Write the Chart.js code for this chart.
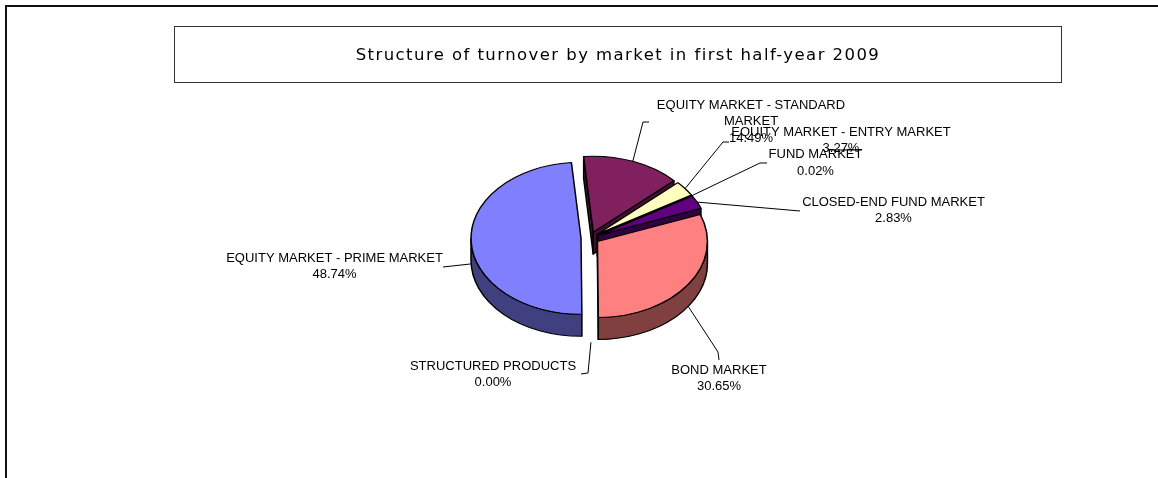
<!DOCTYPE html>
<html>
<head>
<meta charset="utf-8">
<script src="https://cdn.jsdelivr.net/npm/chart.js@4.4.0/dist/chart.umd.min.js"></script>
<style>
  html, body { margin: 0; padding: 0; background: #fff; }
  #wrap { position: relative; width: 1158px; height: 478px; overflow: hidden; }
  #frame {
    position: absolute; left: 5px; top: 5px; width: 1200px; height: 520px;
    border-left: 2px solid #111; border-top: 2px solid #111;
  }
  #titleBox {
    position: absolute; left: 174px; top: 26px; width: 888px; height: 57px;
    box-sizing: border-box; border: 1px solid #333;
    display: flex; align-items: center; justify-content: center;
    font: 16.5px "DejaVu Sans", Verdana, sans-serif; color: #000; white-space: nowrap;
  }
  #pie { position: absolute; left: 0; top: 0; }
</style>
</head>
<body>
<div id="wrap">
  <div id="frame"></div>
  <canvas id="pie" width="1158" height="478"></canvas>
  <div id="titleBox"><span id="title">Structure of turnover by market in first half-year 2009</span></div>
</div>
<script>
// slices, clockwise from 12 o'clock
var categories = [
  "EQUITY MARKET - STANDARD MARKET",
  "EQUITY MARKET - ENTRY MARKET",
  "FUND MARKET",
  "CLOSED-END FUND MARKET",
  "BOND MARKET",
  "STRUCTURED PRODUCTS",
  "EQUITY MARKET - PRIME MARKET",
];
var shares = [14.49, 3.27, 0.02, 2.83, 30.65, 0.0, 48.74];

var topColors = ["#80205F", "#FFFFC0", "#7A2A7A", "#600080", "#FF8080", "#0066CC", "#8080FF"];
var sideColors = ["#401030", "#808060", "#3D153D", "#300040", "#804040", "#003366", "#404080"];

var PIE_SQUASH = 76 / 110;   // ellipse height / width
var PIE_DEPTH = 22;          // thickness of the pie in px
var EXPLODE = 9;
var LINE_H = 16.5;
var LABEL_FONT = '13px "Liberation Sans", Arial, sans-serif';

// label placement: centre x, first line y, wrap width, leader bends
var labelLayout = [
  { x: 751, y: 105, wrap: 200, leader: [[643, 122], [649, 122]] },
  { x: 841, y: 132, wrap: 260, leader: [[723, 142], [729, 142]], extra: [[827, 150], [862, 150]] },
  { x: 815.5, y: 154.5, wrap: 200, leader: [[760, 163], [767, 163]] },
  { x: 893.5, y: 202, wrap: 260, leader: [[800, 211]] },
  { x: 719, y: 370, wrap: 200, leader: [[718, 352], [719, 360]] },
  { x: 493, y: 366, wrap: 220, leader: [[588, 373], [581, 374]] },
  { x: 334.5, y: 258, wrap: 260, leader: [[443, 267]] },
];

function wrapText(ctx, text, maxW) {
  var words = text.split(" ");
  var lines = [];
  var cur = "";
  words.forEach(function (w) {
    var test = cur ? cur + " " + w : w;
    if (cur && ctx.measureText(test).width > maxW) {
      lines.push(cur);
      cur = w;
    } else {
      cur = test;
    }
  });
  if (cur) lines.push(cur);
  return lines;
}

function pieCenterY(chart) {
  return (chart.chartArea.top + chart.chartArea.bottom) / 2;
}

// side walls, drawn in the squashed space before the tops
function drawSides(chart) {
  var ctx = chart.ctx;
  var d = PIE_DEPTH / PIE_SQUASH;
  var arcs = chart.getDatasetMeta(0).data;
  ctx.lineWidth = 1.5;
  ctx.strokeStyle = "#000";
  ctx.lineJoin = "round";

  arcs.forEach(function (a, i) {
    if (a.endAngle - a.startAngle <= 0) return;
    ctx.fillStyle = sideColors[i];
    var faces = [
      [a.startAngle, Math.cos(a.startAngle) < 0],
      [a.endAngle, Math.cos(a.endAngle) > 0],
    ];
    faces.forEach(function (f) {
      if (!f[1]) return;
      var rx = a.x + a.outerRadius * Math.cos(f[0]);
      var ry = a.y + a.outerRadius * Math.sin(f[0]);
      ctx.beginPath();
      ctx.moveTo(a.x, a.y);
      ctx.lineTo(rx, ry);
      ctx.lineTo(rx, ry + d);
      ctx.lineTo(a.x, a.y + d);
      ctx.closePath();
      ctx.fill();
      ctx.stroke();
    });
  });

  arcs.forEach(function (a, i) {
    if (a.endAngle - a.startAngle <= 0) return;
    ctx.fillStyle = sideColors[i];
    var r = a.outerRadius;
    for (var k = -1; k <= 1; k++) {
      var lo = Math.max(a.startAngle, 2 * Math.PI * k);
      var hi = Math.min(a.endAngle, 2 * Math.PI * k + Math.PI);
      if (hi <= lo) continue;
      ctx.beginPath();
      ctx.arc(a.x, a.y, r, lo, hi);
      ctx.lineTo(a.x + r * Math.cos(hi), a.y + r * Math.sin(hi) + d);
      ctx.arc(a.x, a.y + d, r, hi, lo, true);
      ctx.closePath();
      ctx.fill();
      ctx.stroke();
    }
  });
}

function drawLabels(chart) {
  var ctx = chart.ctx;
  var cy = pieCenterY(chart);
  var arcs = chart.getDatasetMeta(0).data;
  ctx.save();
  ctx.font = LABEL_FONT;
  ctx.fillStyle = "#000";
  ctx.textAlign = "center";
  ctx.textBaseline = "middle";
  arcs.forEach(function (a, i) {
    var L = labelLayout[i];
    var lines = wrapText(ctx, categories[i], L.wrap);
    lines.push(shares[i].toFixed(2) + "%");
    lines.forEach(function (t, j) {
      ctx.fillText(t, L.x, L.y + j * LINE_H);
    });
  });

  ctx.strokeStyle = "#000";
  ctx.lineWidth = 1;
  arcs.forEach(function (a, i) {
    var L = labelLayout[i];
    var mid = (a.startAngle + a.endAngle) / 2;
    var ax = a.x + a.outerRadius * Math.cos(mid);
    var ay = cy + (a.y + a.outerRadius * Math.sin(mid) - cy) * PIE_SQUASH;
    if (Math.sin(mid) > 0) ay += PIE_DEPTH;
    ctx.beginPath();
    ctx.moveTo(ax, ay);
    L.leader.forEach(function (p) { ctx.lineTo(p[0], p[1]); });
    ctx.stroke();
    if (L.extra) {
      ctx.beginPath();
      ctx.moveTo(L.extra[0][0], L.extra[0][1]);
      ctx.lineTo(L.extra[1][0], L.extra[1][1]);
      ctx.stroke();
    }
  });
  ctx.restore();
}

var pie3d = {
  id: "pie3d",
  afterDatasetsUpdate: function (chart) {
    chart.getDatasetMeta(0).data.forEach(function (arc) {
      var mid = (arc.startAngle + arc.endAngle) / 2;
      arc.x += EXPLODE * Math.cos(mid);
      arc.y += EXPLODE * Math.sin(mid);
    });
  },
  beforeDatasetsDraw: function (chart) {
    var ctx = chart.ctx;
    var cy = pieCenterY(chart);
    ctx.save();
    ctx.translate(0, cy);
    ctx.scale(1, PIE_SQUASH);
    ctx.translate(0, -cy);
    drawSides(chart);
  },
  afterDatasetsDraw: function (chart) {
    chart.ctx.restore();
    drawLabels(chart);
  },
};

new Chart(document.getElementById("pie"), {
  type: "pie",
  data: {
    labels: categories,
    datasets: [
      {
        data: shares,
        backgroundColor: topColors,
        borderColor: "#000",
        borderWidth: 1.5,
        radius: 110,
        rotation: -5,
        clip: false,
      },
    ],
  },
  options: {
    responsive: false,
    animation: false,
    events: [],
    layout: { padding: { left: 22, right: 0, top: 0, bottom: 2 } },
    plugins: {
      legend: { display: false },
      tooltip: { enabled: false },
      title: { display: false },
    },
  },
  plugins: [pie3d],
});

// stretch the title to the width it has in the original
(function () {
  var el = document.getElementById("title");
  var w = el.getBoundingClientRect().width;
  var n = el.textContent.length - 1;
  el.style.letterSpacing = ((523 - w) / n).toFixed(2) + "px";
})();
</script>
</body>
</html>
